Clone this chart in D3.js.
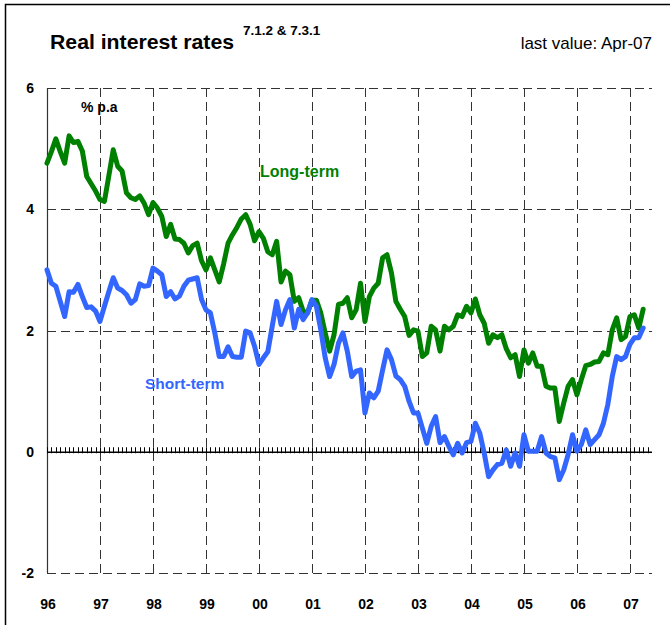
<!DOCTYPE html>
<html>
<head>
<meta charset="utf-8">
<script src="https://cdn.jsdelivr.net/npm/d3@7"></script>
<style>
  html, body { margin: 0; padding: 0; background: #fff; }
  svg { display: block; font-family: Arial, "Liberation Sans", sans-serif; }
</style>
</head>
<body>
<svg id="chart" width="670" height="625"></svg>
<script>
// Monthly real interest rates, % p.a., from Jan 1996 to Apr 2007
const startYear = 1996;
const longTerm = [
  4.76, 4.95, 5.16, 4.95, 4.76, 5.21, 5.10, 5.12, 4.96, 4.54, 4.42, 4.30,
  4.16, 4.13, 4.55, 4.98, 4.71, 4.63, 4.27, 4.19, 4.16, 4.22, 4.10, 3.91,
  4.11, 4.02, 3.88, 3.55, 3.75, 3.51, 3.50, 3.44, 3.28, 3.40, 3.44, 3.15,
  3.00, 3.20, 3.00, 2.80, 3.10, 3.44, 3.58, 3.70, 3.84, 3.91, 3.75, 3.48,
  3.63, 3.52, 3.30, 3.25, 3.47, 2.80, 2.98, 2.92, 2.48, 2.54, 2.32, 2.29,
  2.50, 2.50, 2.29, 1.96, 1.66, 1.93, 2.43, 2.45, 2.54, 2.21, 2.34, 2.78,
  2.15, 2.56, 2.70, 2.78, 3.20, 3.25, 2.95, 2.48, 2.35, 2.23, 1.92, 2.01,
  1.99, 1.57, 1.63, 2.07, 2.01, 1.66, 2.07, 2.01, 2.07, 2.26, 2.23, 2.40,
  2.29, 2.52, 2.26, 2.12, 1.79, 1.93, 1.88, 1.93, 1.70, 1.55, 1.60, 1.24,
  1.68, 1.46, 1.63, 1.41, 1.41, 1.08, 1.05, 1.05, 0.50, 0.80, 1.08, 1.19,
  0.94, 1.19, 1.42, 1.44, 1.48, 1.49, 1.63, 1.60, 2.01, 2.21, 1.85, 1.90,
  2.23, 2.26, 2.04, 2.35
];
const shortTerm = [
  3.00, 2.78, 2.73, 2.48, 2.23, 2.64, 2.63, 2.76, 2.56, 2.38, 2.39, 2.32,
  2.15, 2.40, 2.64, 2.87, 2.70, 2.66, 2.59, 2.45, 2.51, 2.77, 2.73, 2.74,
  3.03, 2.98, 2.92, 2.56, 2.64, 2.52, 2.57, 2.73, 2.83, 2.85, 2.87, 2.51,
  2.34, 2.29, 1.96, 1.57, 1.57, 1.73, 1.57, 1.56, 1.56, 1.99, 1.96, 1.74,
  1.44, 1.55, 1.65, 2.07, 2.48, 2.10, 2.34, 2.51, 2.04, 2.35, 2.18, 2.29,
  2.51, 2.40, 2.01, 1.55, 1.24, 1.44, 1.79, 1.96, 1.66, 1.24, 1.33, 1.35,
  0.64, 0.97, 0.89, 1.00, 1.35, 1.68, 1.52, 1.25, 1.19, 1.08, 0.83, 0.64,
  0.64, 0.39, 0.14, 0.42, 0.58, 0.15, 0.25, 0.09, -0.05, 0.14, -0.02, 0.15,
  0.17, 0.47, 0.31, -0.02, -0.41, -0.30, -0.21, -0.19, 0.03, -0.24, -0.02, -0.24,
  0.28, 0.01, 0.01, 0.01, 0.25, -0.02, -0.08, -0.10, -0.46, -0.30, -0.05, 0.28,
  0.01, 0.12, 0.36, 0.12, 0.20, 0.28, 0.47, 0.78, 1.24, 1.57, 1.52, 1.57,
  1.77, 1.88, 1.88, 2.04
];
const yearLabels = ["96", "97", "98", "99", "00", "01", "02", "03", "04", "05", "06", "07"];
const yTicks = [-2, 0, 2, 4, 6];

const svg = d3.select("#chart");
const plotLeft = 47, plotRight = 652, plotTop = 88, plotBottom = 573;

const x = d3.scaleLinear().domain([startYear, startYear + 11 + 5 / 12]).range([plotLeft, plotRight]);
const y = d3.scaleLinear().domain([-2, 6]).range([plotBottom, plotTop]);

// outer frame (left and top edges)
svg.append("path")
  .attr("d", "M5.5,625 V4.5 H670")
  .attr("fill", "none").attr("stroke", "#000").attr("stroke-width", 1.5);

// dashed grid
const grid = svg.append("g").attr("stroke", "#333").attr("stroke-width", 1)
  .attr("stroke-dasharray", "9,5").attr("fill", "none");
yTicks.filter(v => v !== 0).forEach(v => {
  grid.append("line").attr("x1", plotLeft).attr("x2", plotRight)
    .attr("y1", Math.round(y(v)) + 0.5).attr("y2", Math.round(y(v)) + 0.5);
});
yearLabels.forEach((lab, i) => {
  if (i === 0) return;
  const xx = Math.round(x(startYear + i)) + 0.5;
  grid.append("line").attr("x1", xx).attr("x2", xx).attr("y1", plotTop).attr("y2", plotBottom);
});

// vertical axis line
svg.append("line").attr("x1", plotLeft + 0.5).attr("x2", plotLeft + 0.5)
  .attr("y1", plotTop).attr("y2", plotBottom).attr("stroke", "#333").attr("stroke-width", 1.2);

// zero line with monthly ticks
const zeroY = y(0);
const months = d3.range(0, 12 * 11 + 5).map(m => startYear + m / 12);
const zero = svg.append("g");
zero.selectAll("line.mt").data(months).join("line").attr("class", "mt")
  .attr("x1", d => Math.round(x(d)) + 0.5).attr("x2", d => Math.round(x(d)) + 0.5)
  .attr("y1", zeroY - 4.5).attr("y2", zeroY + 1.5)
  .attr("stroke", "#000").attr("stroke-width", 1);
zero.append("line").attr("x1", plotLeft).attr("x2", plotRight)
  .attr("y1", zeroY + 0.5).attr("y2", zeroY + 0.5)
  .attr("stroke", "#000").attr("stroke-width", 1.6);

// axis labels
svg.append("g").selectAll("text").data(yTicks).join("text")
  .attr("x", 34).attr("y", d => y(d) + 5)
  .attr("text-anchor", "end").attr("font-size", 14).attr("font-weight", "bold")
  .text(d => d);
svg.append("g").selectAll("text").data(yearLabels).join("text")
  .attr("x", (d, i) => x(startYear + i) + 1).attr("y", 609)
  .attr("text-anchor", "middle").attr("font-size", 14).attr("font-weight", "bold")
  .text(d => d);

// series
const line = d3.line()
  .x((d, i) => x(startYear + i / 12))
  .y(d => y(d));
svg.append("path").datum(longTerm).attr("d", line)
  .attr("fill", "none").attr("stroke", "#008000").attr("stroke-width", 5)
  .attr("stroke-linejoin", "round").attr("stroke-linecap", "round");
svg.append("path").datum(shortTerm).attr("d", line)
  .attr("fill", "none").attr("stroke", "#3366ff").attr("stroke-width", 5)
  .attr("stroke-linejoin", "round").attr("stroke-linecap", "round");

// titles and labels
svg.append("text").attr("x", 50).attr("y", 49)
  .attr("font-size", 21).attr("font-weight", "bold").attr("fill", "#000")
  .attr("textLength", 184).attr("lengthAdjust", "spacingAndGlyphs")
  .text("Real interest rates");
svg.append("text").attr("x", 243).attr("y", 35)
  .attr("font-size", 13.5).attr("font-weight", "bold").attr("fill", "#000")
  .text("7.1.2 & 7.3.1");
svg.append("text").attr("x", 652).attr("y", 49).attr("text-anchor", "end")
  .attr("font-size", 17).attr("fill", "#000")
  .text("last value: Apr-07");
svg.append("text").attr("x", 81).attr("y", 112)
  .attr("font-size", 14).attr("font-weight", "bold").attr("fill", "#000")
  .text("% p.a");
svg.append("text").attr("x", 260).attr("y", 177)
  .attr("font-size", 16).attr("font-weight", "bold").attr("fill", "#008000")
  .text("Long-term");
svg.append("text").attr("x", 145).attr("y", 389)
  .attr("font-size", 15.5).attr("font-weight", "bold").attr("fill", "#3366ff")
  .text("Short-term");
</script>
</body>
</html>
